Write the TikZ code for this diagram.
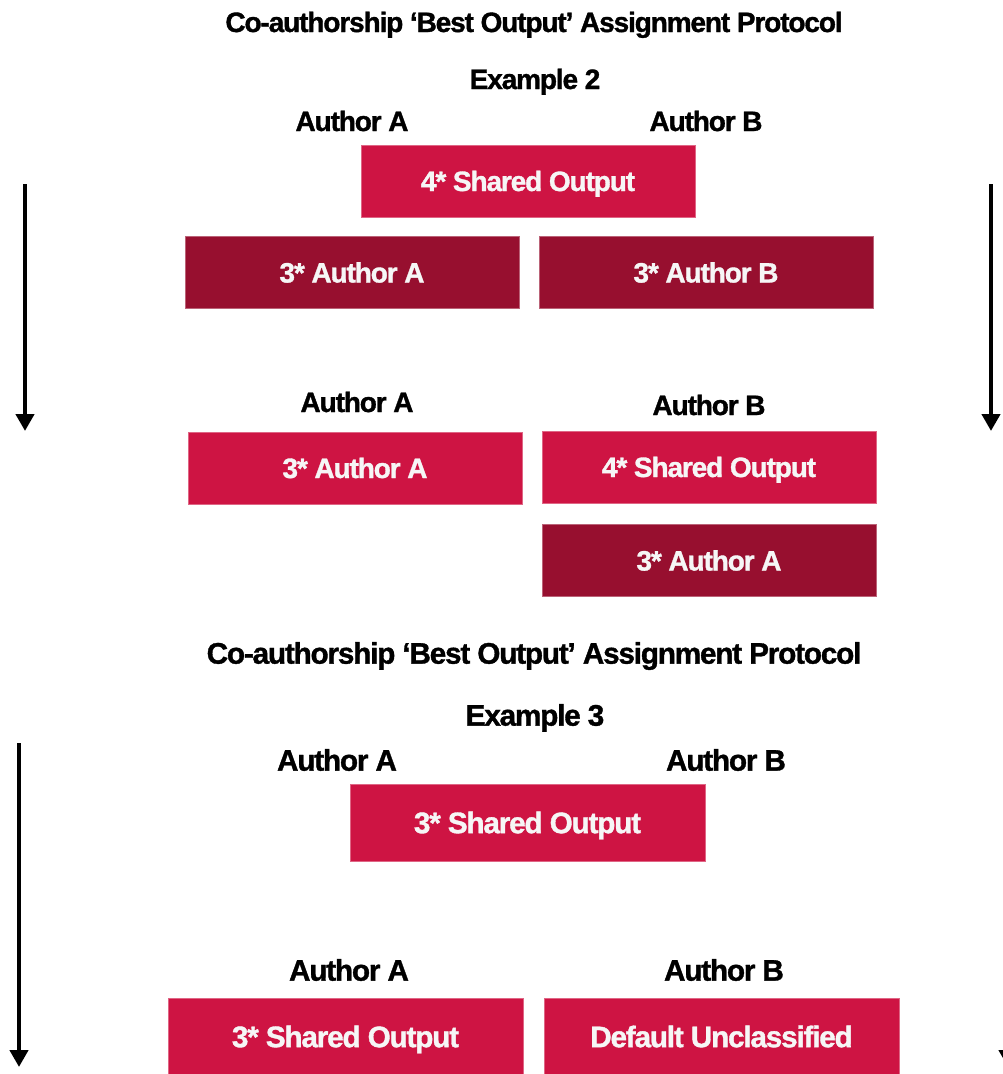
\documentclass[tikz,border=0pt]{standalone}
\usepackage{fontspec}
\setmainfont{Liberation Sans}
\newfontfamily\heavy[LetterSpace=-4,FakeBold=1.2]{Liberation Sans Bold}
\usetikzlibrary{arrows.meta}
\definecolor{crimson}{HTML}{CE1443}
\definecolor{wine}{HTML}{970F2F}
\definecolor{paper}{HTML}{F6F6F6}

\begin{document}
\begin{tikzpicture}[x=1pt,y=-1pt,
  % black headings, two sizes
  lbl/.style={font=\heavy\fontsize{28}{32}\selectfont, text height=20pt, text depth=0pt, inner sep=0pt},
  lblL/.style={font=\heavy\fontsize{29.7}{34}\selectfont, text height=21.3pt, text depth=0pt, inner sep=0pt},
  % coloured output boxes
  box/.style={minimum width=334pt, minimum height=72pt, inner sep=0pt, text=paper,
    font=\heavy\fontsize{28}{32}\selectfont, text height=20pt, text depth=0pt},
  boxL/.style={minimum width=355pt, minimum height=77pt, inner sep=0pt, text=paper,
    font=\heavy\fontsize{29.7}{34}\selectfont, text height=21.3pt, text depth=0pt},
  bright/.style={fill=crimson, draw=crimson!65!white, line width=0.6pt},
  deep/.style={fill=wine, draw=wine!65!white, line width=0.6pt},
  flow/.style={line width=4.5pt, -{Triangle[width=18pt,length=17pt]}}
]
\path[use as bounding box] (0,0) rectangle (1003,1074);
\clip (0,0) rectangle (1003,1074);

% ---------- Example 2 ----------
\node[lbl] (t1) at (534,22) {Co-authorship ‘Best Output’ Assignment Protocol};
\node[lbl] (ex2) at (535,79) {Example 2};
\node[lbl] (a1) at (352,121) {Author A};
\node[lbl] (b1) at (706,121) {Author B};

\node[box,bright] (s4) at (528,181) {4* Shared Output};
\node[box,deep] (ra) at (352,272.5) {3* Author A};
\node[box,deep] (rb) at (706,272.5) {3* Author B};

\node[lbl] (a2) at (357,402) {Author A};
\node[lbl] (b2) at (709,405) {Author B};
\node[box,bright] (fa) at (355,468) {3* Author A};
\node[box,bright] (fs) at (709,467) {4* Shared Output};
\node[box,deep] (fb) at (709,560.5) {3* Author A};

\coordinate (l1s) at (25,184);
\coordinate (l1e) at (25,431);
\coordinate (r1s) at (991,184);
\coordinate (r1e) at (991,431);
\draw[flow] (l1s) -- (l1e);
\draw[flow] (r1s) -- (r1e);

% ---------- Example 3 ----------
\node[lblL] (t2) at (534,653) {Co-authorship ‘Best Output’ Assignment Protocol};
\node[lblL] (ex3) at (535,715) {Example 3};
\node[lblL] (a3) at (337,760) {Author A};
\node[lblL] (b3) at (726,760) {Author B};

\node[boxL,bright] (s3) at (527.5,822.5) {3* Shared Output};

\node[lblL] (a4) at (349,970) {Author A};
\node[lblL] (b4) at (724,970) {Author B};
\node[boxL,bright] (ga) at (345.5,1036.5) {3* Shared Output};
\node[boxL,bright] (gb) at (721.5,1036.5) {Default Unclassified};

\coordinate (l2s) at (19,743);
\coordinate (l2e) at (19,1067);
\coordinate (r2s) at (1008,743);
\coordinate (r2e) at (1008,1067);
\draw[flow] (l2s) -- (l2e);
\draw[flow] (r2s) -- (r2e);
\end{tikzpicture}
\end{document}
